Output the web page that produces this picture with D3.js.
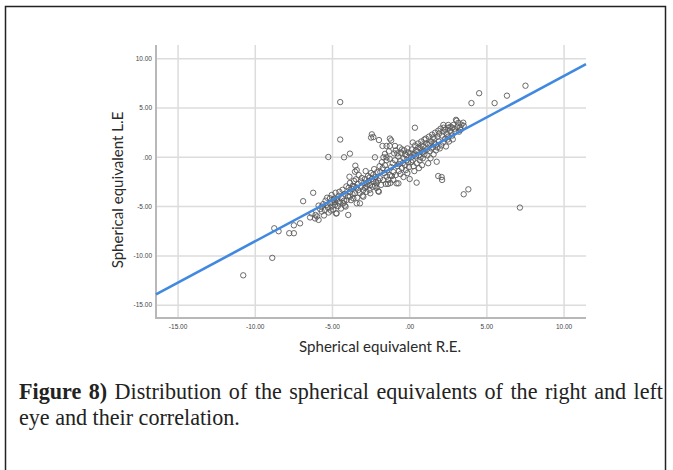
<!DOCTYPE html>
<html><head><meta charset="utf-8">
<script src="https://cdn.jsdelivr.net/npm/d3@7/dist/d3.min.js"></script>
<style>body{margin:0;background:#fff}svg{display:block}</style>
</head><body>
<svg id="c" width="673" height="470"></svg>
<script>
// ---- data ----
const xTicks = [-15, -10, -5, 0, 5, 10];
const xTickLabels = ["-15.00", "-10.00", "-5.00", ".00", "5.00", "10.00"];
const yTicks = [10, 5, 0, -5, -10, -15];
const yTickLabels = ["10.00", "5.00", ".00", "-5.00", "-10.00", "-15.00"];
const fitSlope = 0.838, fitIntercept = -0.13;
const xTitle = "Spherical equivalent R.E.";
const yTitle = "Spherical equivalent L.E";
const captionBold = "Figure 8)";
const captionLine1 = " Distribution of the spherical equivalents of the right and left";
const captionLine2 = "eye and their correlation.";
// right eye SE (x) and left eye SE (y), paired
const pts = [
[-10.78,-11.97],[-8.9,-10.2],[-8.77,-7.2],[-8.49,-7.5],[-7.8,-7.7],[-7.5,-7.7],[-7.5,-6.9],[-7.1,-6.7],
[-4.5,5.6],[-4.5,1.8],[-5.27,0.03],[-4.25,0.0],[-3.87,0.37],[-2.45,2.33],[-2.35,2.05],[-2.5,2.0],
[4.0,5.5],[4.5,6.5],[5.5,5.5],[6.3,6.25],[7.5,7.26],[7.14,-5.1],[3.5,-3.75],[3.8,-3.25],[0.34,3.0],
[-6.9,-4.45],[-6.25,-3.6],[-6.1,-5.85],[-6.0,-6.0],[-5.9,-6.35],[-6.13,-6.2],[-6.35,-5.7],[-6.45,-6.1],
[-5.7,-5.0],[-5.49,-5.35],[-5.7,-5.5],[-5.38,-4.84],[-5.16,-4.67],[-5.05,-3.82],[-4.95,-4.33],[-5.16,-4.16],
[-5.8,-5.25],[-5.6,-4.75],[-5.3,-5.1],[-5.45,-4.4],[-5.9,-4.9],[-5.25,-5.6],[-5.05,-5.0],[-5.55,-5.9],[-5.0,-4.6],[-5.35,-4.1],
[-4.84,-4.84],[-4.51,-4.5],[-4.3,-4.67],[-4.4,-4.16],[-4.08,-4.33],[-4.73,-5.68],[-3.98,-5.85],[-4.77,-5.7],
[-4.6,-3.9],[-4.2,-3.7],[-4.9,-4.2],[-4.65,-4.95],[-4.45,-5.2],[-4.15,-5.0],[-4.0,-3.95],[-4.55,-3.5],[-4.35,-3.3],
[-4.1,-2.95],[-4.8,-3.6],[-4.25,-4.4],[-4.7,-4.3],[-4.95,-5.3],[-4.6,-4.6],[-4.2,-4.9],[-5.1,-5.4],[-4.85,-4.5],
[-3.87,-4.0],[-3.65,-4.16],[-3.87,-3.49],[-3.54,-3.65],[-3.43,-4.67],[-3.22,-4.67],[-3.33,-3.32],[-3.0,-3.32],
[-3.9,-1.97],[-3.48,-2.23],[-3.52,-0.85],[-3.54,-1.46],[-3.43,-1.29],[-3.87,-2.6],[-3.7,-2.9],[-3.6,-3.0],
[-3.35,-2.7],[-3.15,-2.45],[-3.05,-3.9],[-3.25,-3.6],[-3.75,-3.2],[-3.95,-3.1],[-3.1,-2.1],[-3.3,-1.8],
[-3.0,-4.0],[-3.45,-3.05],[-3.8,-4.35],[-3.6,-2.4],[-3.7,-3.75],[-3.4,-4.1],[-3.15,-3.0],
[-2.78,-2.98],[-2.57,-2.81],[-2.36,-2.47],[-2.14,-2.64],[-2.03,-3.42],[-2.0,-3.5],[-2.9,-2.2],[-2.7,-1.9],
[-2.5,-1.6],[-2.8,-3.5],[-2.6,-3.3],[-2.4,-3.0],[-2.2,-2.0],[-2.1,-1.5],[-2.95,-2.6],[-2.45,-2.2],[-2.25,-2.9],
[-2.65,-2.4],[-2.85,-1.4],[-2.3,-1.2],[-2.05,-2.35],[-2.55,-3.65],[-2.15,-3.1],[-2.75,-2.75],[-2.35,-1.75],[-2.9,-3.1],
[-2.6,-2.05],[-2.2,-2.5],
[-1.92,-2.13],[-1.71,-2.3],[-1.49,-1.97],[-1.28,-1.8],[-1.06,-2.3],[-1.38,-2.3],[-1.4,-2.7],[-1.9,-1.5],
[-1.75,-1.1],[-1.6,-0.8],[-1.45,-1.3],[-1.2,-1.0],[-1.1,-0.6],[-1.8,-0.5],[-1.5,-0.3],[-1.3,-0.15],[-1.05,-1.5],
[-1.95,-0.9],[-1.65,-1.6],[-1.25,-2.6],[-1.55,-2.7],[-1.85,-2.8],[-1.15,-1.9],[-1.7,0.0],[-1.5,0.0],[-2.25,0.0],
[-1.99,1.75],[-1.76,1.15],[-1.5,1.15],[-1.29,1.15],[-0.95,1.15],[-1.2,1.72],[-1.28,1.9],[-1.0,0.4],[-1.35,0.6],[-1.6,0.35],
[-0.85,-2.64],[-0.73,-2.64],[-0.9,-1.8],[-0.7,-1.4],[-0.5,-1.1],[-0.3,-0.8],[-0.1,-0.5],[-0.8,-0.9],[-0.6,-0.4],
[-0.4,-0.1],[-0.2,0.2],[-0.95,-0.3],[-0.75,0.1],[-0.55,0.45],[-0.35,0.7],[-0.15,0.9],[-0.9,0.7],[-0.65,1.0],
[-0.45,-0.6],[-0.25,-1.3],[-0.05,-1.0],[-0.6,-1.7],[-0.4,-2.0],[-0.15,-1.6],[-0.8,0.4],[-0.3,0.3],[-0.5,0.8],
[-0.7,-0.7],[0.0,-2.2],[-0.1,0.5],[-0.2,-0.3],
[0.45,-2.57],[0.1,0.0],[0.2,-0.3],[0.3,0.4],[0.4,0.1],[0.5,0.6],[0.6,0.2],[0.7,0.9],[0.8,0.5],[0.9,1.1],
[0.15,0.8],[0.35,1.2],[0.55,1.4],[0.75,1.6],[0.95,1.8],[0.25,-0.9],[0.45,-0.6],[0.65,-0.3],[0.85,-0.1],[0.05,0.4],
[0.3,-1.4],[0.6,-1.1],[0.8,-0.8],[0.95,0.3],[0.2,1.5],[0.4,0.7],[0.7,0.0],[0.1,-0.5],[0.55,1.0],[0.9,0.6],[0.75,1.2],[0.25,0.2],
[1.75,-0.45],[1.85,-1.9],[1.1,0.8],[1.2,1.3],[1.3,0.6],[1.4,1.6],[1.5,1.0],[1.6,1.9],[1.7,1.3],[1.8,2.1],
[1.9,1.6],[1.05,1.9],[1.25,2.1],[1.45,2.3],[1.65,2.5],[1.85,2.7],[1.15,0.2],[1.35,-0.1],[1.55,0.3],[1.95,0.9],
[1.5,2.0],[1.3,1.4],[1.7,0.7],[1.1,1.4],[1.9,2.4],[1.6,1.4],[1.2,-0.6],[1.4,0.9],[1.8,1.0],
[2.1,-2.3],[2.07,-2.0],[2.18,3.28],[2.5,3.28],[2.83,3.28],[2.2,3.0],[2.5,3.0],[2.76,3.0],[2.79,1.82],
[2.1,2.2],[2.2,2.6],[2.3,1.9],[2.4,2.4],[2.5,2.1],[2.6,2.7],[2.7,2.5],[2.9,2.9],[2.15,1.5],[2.35,1.1],
[2.55,1.6],[2.75,2.2],[2.95,2.6],[2.0,2.9],[2.3,2.8],[2.65,3.1],[2.45,1.8],[2.05,1.2],
[3.04,3.71],[3.47,3.51],[3.0,3.8],[3.26,3.0],[3.1,3.1],[3.2,2.6],[3.35,3.3],[3.5,3.2],[3.15,3.5],[3.3,2.8]
];
const rightEye = pts.map(p => p[0]);
const leftEye = pts.map(p => p[1]);

// ---- layout ----
const svg = d3.select("#c");
svg.append("rect").attr("x",0).attr("y",0).attr("width",673).attr("height",470).attr("fill","#fff");
svg.append("rect").attr("x",5.5).attr("y",6.5).attr("width",660).attr("height",480)
  .attr("fill","none").attr("stroke","#222").attr("stroke-width",1.5);

const x = d3.scaleLinear().domain([-16.43, 11.42]).range([156, 586]);
const y = d3.scaleLinear().domain([-16.3, 11.39]).range([318, 45]);
const [x0,x1] = x.range(), [y0,y1] = y.range();

const g = svg.append("g");
// grid
g.selectAll(".vg").data(xTicks).join("line")
  .attr("x1",d=>x(d)).attr("x2",d=>x(d)).attr("y1",y1).attr("y2",y0)
  .attr("stroke","#dcdcdc").attr("stroke-width",1.5);
g.selectAll(".hg").data(yTicks).join("line")
  .attr("y1",d=>y(d)).attr("y2",d=>y(d)).attr("x1",x0).attr("x2",x1)
  .attr("stroke","#dcdcdc").attr("stroke-width",1.5);
// axes
g.append("line").attr("x1",x0).attr("x2",x0).attr("y1",y1).attr("y2",y0).attr("stroke","#b8b8b8").attr("stroke-width",2);
g.append("line").attr("x1",x0-1).attr("x2",x1).attr("y1",y0).attr("y2",y0).attr("stroke","#b8b8b8").attr("stroke-width",2);

// tick labels
g.selectAll(".xt").data(xTicks).join("text")
  .attr("x",d=>x(d)).attr("y",y0+11).attr("text-anchor","middle")
  .attr("font-family","Liberation Sans, Arial, sans-serif").attr("font-size",6.5).attr("fill","#444")
  .text((d,i)=>xTickLabels[i]);
g.selectAll(".yt").data(yTicks).join("text")
  .attr("x",x0-4).attr("y",d=>y(d)+2.3).attr("text-anchor","end")
  .attr("font-family","Liberation Sans, Arial, sans-serif").attr("font-size",6.5).attr("fill","#444")
  .text((d,i)=>yTickLabels[i]);

// points
g.selectAll(".pt").data(rightEye).join("circle")
  .attr("cx",d=>x(d)).attr("cy",(d,i)=>y(leftEye[i])).attr("r",2.7)
  .attr("fill","none").attr("stroke","#5a5a5a").attr("stroke-width",0.9);

// fit line
const lx = x.domain();
g.append("line")
  .attr("x1",x(lx[0])).attr("y1",y(fitSlope*lx[0]+fitIntercept))
  .attr("x2",x(lx[1])).attr("y2",y(fitSlope*lx[1]+fitIntercept))
  .attr("stroke","#4189e0").attr("stroke-width",2.6);

// axis titles
const xt = svg.append("text").attr("x",380).attr("y",352).attr("text-anchor","middle")
  .attr("font-family","Lato, Open Sans, sans-serif").attr("font-size",14).attr("fill","#2a2a2a").text(xTitle);
const xfs = 14*162/xt.node().getComputedTextLength();
xt.attr("font-size",xfs);
svg.append("text").attr("transform","translate(123,190) rotate(-90)").attr("text-anchor","middle")
  .attr("font-family","Lato, Open Sans, sans-serif").attr("font-size",xfs).attr("fill","#2a2a2a").text(yTitle);

// caption
const cap = svg.append("g").attr("font-family","Liberation Serif, Times New Roman, serif").attr("fill","#222");
const l2 = cap.append("text").attr("x",19).attr("y",425).attr("font-size",18).text(captionLine2);
const w2 = l2.node().getComputedTextLength();
const fs = 18*221/w2;
l2.attr("font-size",fs);
const l1 = cap.append("text").attr("x",19).attr("y",399).attr("font-size",fs);
l1.append("tspan").attr("font-weight","bold").text(captionBold);
const rest = l1.append("tspan").text(captionLine1);
const w1 = l1.node().getComputedTextLength();
const nSp = (captionBold+captionLine1).split(" ").length-1;
l1.attr("word-spacing",(644-w1)/nSp);
</script>
</body></html>
